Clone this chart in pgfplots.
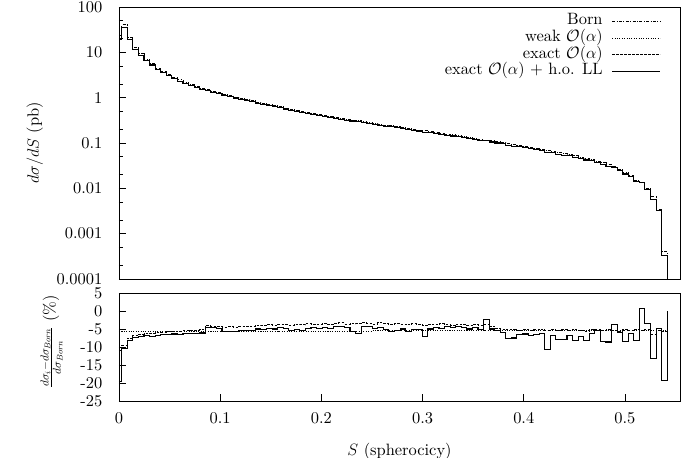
\RequirePackage{fix-cm}
\documentclass[border=0pt]{standalone}
\usepackage{fontspec}
\setmainfont{lmroman10-regular.otf}[ItalicFont=lmroman10-italic.otf, BoldFont=lmroman10-bold.otf]
\usepackage{pgfplots}
\usepackage{pgfplotstable}
\usetikzlibrary{calc}
\pgfplotsset{compat=1.18}

\pgfplotstableread{
x born full rw re rf
0 24.1 19.4 -5.7 -11.0 -19.6
0.00275 40.2 36.0 -5.7 -9.5 -10.5
0.00825 21.1 19.4 -5.7 -7.5 -8.2
0.01375 12.7 11.8 -5.7 -6.7 -7.4
0.01925 9.36 8.7 -5.7 -6.4 -7.1
0.02475 6.98 6.5 -5.7 -6.2 -6.9
0.03025 5.64 5.25 -5.7 -6.1 -7.0
0.03575 4.51 4.2 -5.7 -6.0 -6.8
0.04125 3.85 3.6 -5.7 -5.9 -6.6
0.04675 3.25 3.04 -5.7 -5.8 -6.5
0.05225 2.85 2.67 -5.7 -5.6 -6.4
0.05775 2.48 2.32 -5.7 -5.6 -6.5
0.06325 2.21 2.07 -5.7 -5.4 -6.3
0.06875 1.95 1.83 -5.7 -5.3 -6.2
0.07425 1.77 1.66 -5.7 -5.3 -6.3
0.07975 1.63 1.53 -5.7 -5.1 -6.1
0.08525 1.49 1.41 -5.7 -4.1 -4.5
0.09075 1.38 1.31 -5.7 -4.2 -4.6
0.09625 1.29 1.22 -5.7 -4.3 -4.8
0.10175 1.19 1.13 -5.7 -4.5 -5.8
0.10725 1.11 1.05 -5.7 -4.4 -5.6
0.11275 1.036 0.982 -5.6 -4.6 -5.7
0.11825 0.968 0.918 -5.6 -4.3 -5.4
0.12375 0.908 0.861 -5.6 -4.2 -5.3
0.12925 0.853 0.809 -5.6 -4.3 -5.5
0.13475 0.801 0.759 -5.6 -4.0 -5.0
0.14025 0.752 0.713 -5.6 -4.1 -5.2
0.14575 0.707 0.670 -5.6 -3.8 -4.9
0.15125 0.666 0.631 -5.6 -4.0 -5.0
0.15675 0.627 0.594 -5.6 -3.7 -4.7
0.16225 0.592 0.561 -5.6 -3.8 -4.9
0.16775 0.559 0.530 -5.6 -3.9 -5.4
0.17325 0.529 0.501 -5.6 -3.6 -5.2
0.17875 0.500 0.474 -5.6 -3.8 -5.5
0.18425 0.475 0.450 -5.6 -3.5 -4.8
0.18975 0.450 0.427 -5.6 -3.7 -4.6
0.19525 0.428 0.406 -5.6 -3.6 -4.9
0.20075 0.406 0.385 -5.6 -3.4 -4.5
0.20625 0.387 0.367 -5.6 -3.7 -4.8
0.21175 0.369 0.350 -5.6 -3.5 -4.4
0.21725 0.352 0.334 -5.6 -3.3 -4.3
0.22275 0.337 0.319 -5.6 -3.6 -4.6
0.22825 0.322 0.305 -5.6 -3.4 -5.6
0.23375 0.308 0.292 -5.6 -3.5 -6.2
0.23925 0.294 0.279 -5.6 -3.2 -4.2
0.24475 0.282 0.267 -5.6 -3.4 -4.4
0.25025 0.270 0.256 -5.5 -3.6 -4.9
0.25575 0.258 0.245 -5.5 -3.3 -4.6
0.26125 0.249 0.236 -5.5 -3.5 -5.2
0.26675 0.238 0.226 -5.5 -3.7 -5.6
0.27225 0.229 0.217 -5.5 -3.4 -5.4
0.27775 0.219 0.208 -5.5 -3.6 -5.0
0.28325 0.211 0.200 -5.5 -3.8 -5.8
0.28875 0.202 0.191 -5.5 -3.5 -5.1
0.29425 0.194 0.184 -5.5 -3.7 -5.2
0.29975 0.186 0.173 -5.5 -3.9 -7.0
0.30525 0.178 0.169 -5.5 -3.6 -5.0
0.31075 0.171 0.162 -5.5 -3.8 -4.6
0.31625 0.165 0.156 -5.5 -3.5 -4.8
0.32175 0.157 0.149 -5.5 -3.7 -4.4
0.32725 0.151 0.143 -5.5 -3.9 -4.6
0.33275 0.145 0.137 -5.5 -3.6 -4.2
0.33825 0.138 0.131 -5.5 -3.8 -4.7
0.34375 0.133 0.126 -5.5 -4.0 -5.0
0.34925 0.127 0.120 -5.5 -3.7 -4.6
0.35475 0.121 0.115 -5.5 -3.9 -5.1
0.36025 0.116 0.113 -5.5 -3.6 -2.3
0.36575 0.111 0.105 -5.5 -4.2 -5.0
0.37125 0.1055 0.100 -5.5 -4.8 -5.4
0.37675 0.1008 0.0955 -5.5 -5.0 -5.9
0.38225 0.0962 0.0889 -5.5 -5.2 -7.6
0.38775 0.0919 0.0850 -5.4 -5.0 -7.5
0.39325 0.0878 0.0832 -5.4 -5.3 -6.6
0.39875 0.0838 0.0794 -5.4 -5.1 -6.4
0.40425 0.0799 0.0757 -5.4 -5.4 -6.9
0.40975 0.0761 0.0721 -5.4 -5.2 -6.5
0.41525 0.0725 0.0687 -5.4 -5.0 -6.2
0.42075 0.0689 0.0616 -5.4 -5.3 -10.6
0.42625 0.0653 0.0619 -5.4 -5.1 -6.9
0.43175 0.0619 0.0570 -5.4 -5.4 -7.9
0.43725 0.0587 0.0541 -5.4 -5.2 -7.8
0.44275 0.0554 0.0525 -5.4 -5.5 -6.7
0.44825 0.0521 0.0478 -5.4 -5.1 -8.2
0.45375 0.0491 0.0465 -5.4 -5.3 -7.0
0.45925 0.0459 0.0421 -5.4 -5.6 -8.3
0.46475 0.0427 0.0405 -5.4 -5.2 -6.2
0.47025 0.0397 0.0376 -5.4 -5.0 -5.4
0.47575 0.0366 0.0335 -5.4 -5.4 -8.5
0.48125 0.0335 0.0306 -5.4 -5.1 -8.6
0.48675 0.0304 0.0293 -5.4 -5.3 -3.7
0.49225 0.0265 0.0251 -5.4 -5.6 -6.0
0.49775 0.0226 0.0207 -5.4 -5.2 -8.5
0.50325 0.0192 0.0182 -5.4 -5.5 -6.2
0.50875 0.0153 0.0140 -5.4 -5.1 -8.3
0.51425 0.0136 0.0137 -5.4 -5.4 0.7
0.51975 0.0099 0.0096 -5.4 -5.0 -3.5
0.52525 0.0066 0.0058 -5.4 -6.5 -13.1
0.53075 0.0034 0.0033 -5.4 -5.3 -4.8
0.53625 0.00040 0.00033 -5.4 -5.6 -19.4
0.54175 0.000001 0.000001 -5.4 -5.6 0
}\data

\tikzset{
  bornstyle/.style={black, line width=0.9bp, dash pattern=on 3bp off 1.5bp on 0.8bp off 1.5bp},
  weakstyle/.style={black, line width=0.9bp, dash pattern=on 0.8bp off 1.6bp},
  exactstyle/.style={black, line width=0.9bp, dash pattern=on 2.5bp off 1.5bp},
  fullstyle/.style={black, line width=1.1bp},
}

\pgfplotsset{
  common/.style={
    scale only axis, width=561bp, xmin=0, xmax=0.5544,
    axis line style={line width=0.8bp},
    tick style={black, line width=0.6bp},
    major tick length=7bp, minor tick length=4bp,
    xtick pos=left, ytick pos=left, tick align=inside,
    yticklabel style={inner sep=1bp, xshift=-15.5bp},
    xticklabel style={yshift=-5.5bp},
    axis on top, no marks,
  }
}

\begin{document}
\fontsize{16.5}{19.5}\selectfont
\begin{tikzpicture}
\begin{axis}[common, name=top, height=272bp,
  ymode=log, ymin=1e-4, ymax=100,
  xtick=\empty,
  ytick={1e-4,1e-3,0.01,0.1,1,10,100},
  yticklabels={0.0001,0.001,0.01,0.1,1,10,100},
  minor ytick={0.0002,0.0005,0.002,0.005,0.02,0.05,0.2,0.5,2,5,20,50},
  ylabel={$d\sigma/dS$ (pb)},
  ylabel style={at={(axis description cs:-0.15,0.5)}, anchor=center},
  legend style={draw=none, fill=none, at={(axis description cs:0.966,0.976)}, anchor=north east,
    inner sep=0pt, column sep=8bp, row sep=1.2bp,
    nodes={inner sep=1bp, text height=10bp, text depth=3.5bp}},
  legend cell align=right, legend plot pos=right,
  legend image code/.code={\draw[#1] (0bp,0bp) -- (48bp,0bp);},
]
\addplot[bornstyle, const plot] table[x=x, y=born] {\data};
\addlegendentry{Born}
\addlegendimage{weakstyle}
\addlegendentry{weak $\mathcal{O}(\alpha)$}
\addlegendimage{exactstyle}
\addlegendentry{exact $\mathcal{O}(\alpha)$}
\addplot[fullstyle, const plot] table[x=x, y=full] {\data};
\addlegendentry{exact $\mathcal{O}(\alpha)$ + h.o. LL}
\end{axis}

\begin{axis}[common, at={($(top.south west)+(0bp,-14bp)$)}, anchor=north west, height=108bp,
  ymin=-25, ymax=5,
  xtick={0,0.1,0.2,0.3,0.4,0.5},
  xticklabels={0,0.1,0.2,0.3,0.4,0.5},
  ytick={-25,-20,-15,-10,-5,0,5},
  yticklabels={-25,-20,-15,-10,-5,0,5},
  xlabel={$S$ (spherocicy)},
  xlabel style={at={(axis description cs:0.5,-0.47)}, anchor=center},
  ylabel={$\frac{d\sigma_i-d\sigma_{Born}}{d\sigma_{Born}}$ (\%)},
  ylabel style={at={(axis description cs:-0.12,0.55)}, anchor=center},
]
\addplot[weakstyle, const plot] table[x=x, y=rw] {\data};
\addplot[exactstyle, const plot] table[x=x, y=re] {\data};
\addplot[fullstyle, const plot] table[x=x, y=rf] {\data};
\end{axis}
\pgfresetboundingbox
\path[use as bounding box] ([shift={(-119bp,7bp)}]top.north west) rectangle ([shift={(562bp,-451bp)}]top.north west);
\end{tikzpicture}
\end{document}
